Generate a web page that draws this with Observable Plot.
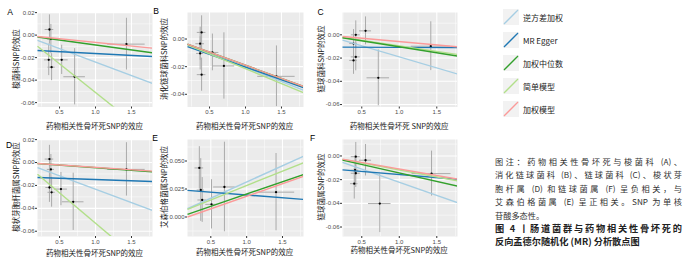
<!DOCTYPE html>
<html><head><meta charset="utf-8">
<script src="https://cdn.jsdelivr.net/npm/d3@7"></script>
<script src="https://cdn.jsdelivr.net/npm/@observablehq/plot@0.6"></script>
<style>
html,body{margin:0;padding:0;background:#fff;}
body{width:700px;height:264px;overflow:hidden;position:relative;font-family:"Liberation Sans","Noto Sans CJK SC",sans-serif;}
.t{position:absolute;white-space:nowrap;font-family:"Noto Sans CJK SC",sans-serif;color:#1a1a1a;}
.ytitle{font-size:7.5px;transform:translate(-50%,-50%) rotate(-90deg);}
.xtitle{font-size:7.5px;transform:translate(-50%,-50%);}
.letter{font-size:8.5px;transform:translate(-50%,-50%);font-family:"Liberation Sans",sans-serif;color:#000;}
.leglab{font-size:8px;transform:translateY(-50%);color:#222;}
.cap{position:absolute;left:495px;width:187px;font-family:"Noto Sans CJK SC",sans-serif;white-space:nowrap;transform:translateY(-50%);}
.note{font-size:8.2px;color:#333;}
.just{text-align:justify;text-align-last:justify;}
.ttl{font-size:9.2px;font-weight:bold;color:#222;}
</style></head><body>
<script>
// ---------- data ----------
const methods = ["逆方差加权", "MR Egger", "加权中位数", "简单模型", "加权模型"];
const methodColors = ["#a6cee3", "#1f78b4", "#33a02c", "#b2df8a", "#fb9a99"];
const drawOrder = [0, 1, 3, 2, 4];
const panelLetters = ["A", "B", "C", "D", "E", "F"];
const yTitles = ["梭菌科SNP的效应", "消化链球菌科SNP的效应", "链球菌科SNP的效应",
                 "梭状芽胞杆菌属SNP的效应", "艾森伯格菌属SNP的效应", "链球菌属SNP的效应"];
const xTitles = ["药物相关性骨坏死SNP的效应", "药物相关性骨坏死SNP的效应", "药物相关性骨坏死 SNP的效应",
                 "药物相关性骨坏死SNP的效应", "药物相关性骨坏死SNP的效应", "药物相关性骨坏死SNP的效应"];
const xTicks = [0.5, 1.0, 1.5];

// Panel A
const xA = [0.36, 0.38, 0.35, 0.39, 0.53, 0.71, 1.43];
const yA = [0.005, -0.0035, -0.022, -0.0285, -0.022, -0.037, -0.008];
const xseA = [0.06, 0.05, 0.06, 0.05, 0.09, 0.15, 0.26];
const yseA = [0.013, 0.013, 0.014, 0.012, 0.013, 0.025, 0.023];
const slopeA = [-0.024, -0.0033, -0.0088, -0.051, -0.0065];
const interA = [0, -0.0131, 0, 0, 0];
const yTicksA = [0.02, 0, -0.02, -0.04, -0.06];

// Panel B
const xB = [0.39, 0.37, 0.37, 0.39, 0.54, 0.70, 1.43];
const yB = [0.0048, -0.0034, -0.0104, -0.0258, -0.0097, -0.0195, -0.027];
const xseB = [0.06, 0.06, 0.05, 0.06, 0.09, 0.15, 0.26];
const yseB = [0.012, 0.012, 0.012, 0.012, 0.0133, 0.024, 0.022];
const slopeB = [-0.0205, -0.0184, -0.019, -0.0215, -0.019];
const interB = [0, -0.0019, 0, 0, 0];
const yTicksB = [0, -0.02, -0.04];

// Panel C
const xC = [0.42, 0.55, 0.39, 0.42, 0.39, 0.72, 1.42];
const yC = [0.000, 0.0034, -0.0075, -0.019, -0.022, -0.037, -0.0098];
const xseC = [0.06, 0.08, 0.05, 0.06, 0.05, 0.15, 0.26];
const yseC = [0.012, 0.012, 0.012, 0.012, 0.012, 0.024, 0.021];
const slopeC = [-0.019, -0.0003, -0.0103, -0.0095, -0.0058];
const interC = [0, -0.0105, 0, 0, 0];
const yTicksC = [0, -0.02, -0.04, -0.06];

// Panel D
const xD = [0.36, 0.38, 0.36, 0.39, 0.52, 0.69, 1.43];
const yD = [0.003, -0.006, -0.0218, -0.026, -0.0232, -0.0343, -0.006];
const xseD = [0.06, 0.05, 0.05, 0.05, 0.09, 0.15, 0.26];
const yseD = [0.012, 0.013, 0.013, 0.013, 0.0145, 0.025, 0.0233];
const slopeD = [-0.0234, -0.0022, -0.0045, -0.053, -0.0042];
const interD = [0, -0.0127, 0, 0, 0];
const yTicksD = [0.02, 0, -0.02, -0.04, -0.06];

// Panel E
const xE = [0.34, 0.36, 0.38, 0.51, 0.69, 1.41];
const yE = [0.0438, 0.0241, 0.0152, 0.0113, 0.0268, 0.0222];
const xseE = [0.06, 0.05, 0.06, 0.08, 0.15, 0.26];
const yseE = [0.019, 0.028, 0.02, 0.022, 0.04, 0.0345];
const slopeE = [0.029, -0.005, 0.022, 0.0257, 0.0224];
const interE = [0.0023, 0.0247, -0.0015, 0.0024, -0.0039];
const yTicksE = [0.05, 0.025, 0];

// Panel F
const xF = [0.42, 0.55, 0.41, 0.42, 0.40, 0.74, 1.43];
const yF = [-0.0006, -0.0036, -0.012, -0.0146, -0.0234, -0.0402, -0.0149];
const xseF = [0.06, 0.08, 0.05, 0.06, 0.05, 0.15, 0.26];
const yseF = [0.012, 0.0133, 0.012, 0.012, 0.013, 0.0245, 0.019];
const slopeF = [-0.0222, -0.0052, -0.0143, -0.0118, -0.011];
const interF = [0, -0.0105, 0, 0, 0];
const yTicksF = [0, -0.02, -0.04, -0.06];

// caption text
const noteLines = ["图注：药物相关性骨坏死与梭菌科 (A)、", "消化链球菌科 (B)、链球菌科 (C)、梭状芽",
                   "胞杆属 (D) 和链球菌属 (F) 呈负相关，与", "艾森伯格菌属 (E) 呈正相关。SNP 为单核",
                   "苷酸多态性。"];
const titleLines = ["图 4 丨肠道菌群与药物相关性骨坏死的", "反向孟德尔随机化 (MR) 分析散点图"];

// ---------- layout ----------
const panels = [
  {x: xA, y: yA, xse: xseA, yse: yseA, slope: slopeA, inter: interA, yTicks: yTicksA, dec: 2,
   rect: [37, 152, 12, 106.5], xDom: [0.194, 1.792], yDom: [-0.0639, 0.0201], letter: [10, 12], yT: 15, xT: 125},
  {x: xB, y: yB, xse: xseB, yse: yseB, slope: slopeB, inter: interB, yTicks: yTicksB, dec: 2,
   rect: [186.7, 302.7, 12, 106.5], xDom: [0.194, 1.806], yDom: [-0.0492, 0.0192], letter: [156, 11], yT: 163, xT: 125},
  {x: xC, y: yC, xse: xseC, yse: yseC, slope: slopeC, inter: interC, yTicks: yTicksC, dec: 2,
   rect: [341.7, 456.7, 12, 106.5], xDom: [0.243, 1.776], yDom: [-0.0621, 0.0192], letter: [320.5, 11.7], yT: 320, xT: 125},
  {x: xD, y: yD, xse: xseD, yse: yseD, slope: slopeD, inter: interD, yTicks: yTicksD, dec: 2,
   rect: [37, 152, 138.5, 235.5], xDom: [0.194, 1.792], yDom: [-0.0646, 0.0201], letter: [9, 145], yT: 15, xT: 252},
  {x: xE, y: yE, xse: xseE, yse: yseE, slope: slopeE, inter: interE, yTicks: yTicksE, dec: 3,
   rect: [186.7, 302.7, 138.5, 235.5], xDom: [0.175, 1.793], yDom: [-0.0174, 0.0692], letter: [155, 137.5], yT: 163, xT: 251},
  {x: xF, y: yF, xse: xseF, yse: yseF, slope: slopeF, inter: interF, yTicks: yTicksF, dec: 2,
   rect: [341.7, 456.7, 138.5, 235.5], xDom: [0.243, 1.776], yDom: [-0.068, 0.0139], letter: [312.7, 137.5], yT: 320, xT: 249}
];

function midpoints(t, dom) {
  const s = t.slice().sort((a, b) => a - b);
  const step = s.length > 1 ? s[1] - s[0] : 0.5;
  const out = [];
  for (let v = s[0] - step / 2; v >= dom[0]; v -= step) out.push(v);
  for (let i = 0; i < s.length - 1; i++) out.push((s[i] + s[i + 1]) / 2);
  for (let v = s[s.length - 1] + step / 2; v <= dom[1]; v += step) out.push(v);
  return out;
}

const body = document.body;
function addText(cls, txt, x, y) {
  const d = document.createElement("div");
  d.className = "t " + cls;
  d.textContent = txt;
  d.style.left = x + "px";
  d.style.top = y + "px";
  body.appendChild(d);
  return d;
}

panels.forEach((p, i) => {
  const [x0, x1, y0, y1] = p.rect;
  const mL = 34, mR = 4, mT = 4, mB = 14;
  const pts = p.x.map((v, k) => ({x: v, y: p.y[k], xse: p.xse[k], yse: p.yse[k]}));
  const lines = drawOrder.map(m => ({
    method: methods[m],
    xa: p.xDom[0], ya: p.inter[m] + p.slope[m] * p.xDom[0],
    xb: p.xDom[1], yb: p.inter[m] + p.slope[m] * p.xDom[1]
  }));
  const fmt = d => d.toFixed(p.dec);
  const svg = Plot.plot({
    width: x1 - x0 + mL + mR,
    height: y1 - y0 + mT + mB,
    marginLeft: mL, marginRight: mR, marginTop: mT, marginBottom: mB,
    style: {background: "transparent", fontFamily: "'Liberation Sans', sans-serif", overflow: "visible"},
    x: {domain: p.xDom, label: null},
    y: {domain: p.yDom, label: null},
    color: {domain: methods, range: methodColors},
    marks: [
      Plot.frame({fill: "#ebebeb", stroke: "none"}),
      Plot.gridX(midpoints(xTicks, p.xDom), {stroke: "#fff", strokeOpacity: 1, strokeWidth: 0.5}),
      Plot.gridY(midpoints(p.yTicks, p.yDom), {stroke: "#fff", strokeOpacity: 1, strokeWidth: 0.5}),
      Plot.gridX(xTicks, {stroke: "#fff", strokeOpacity: 1, strokeWidth: 1.1}),
      Plot.gridY(p.yTicks, {stroke: "#fff", strokeOpacity: 1, strokeWidth: 1.1}),
      Plot.ruleX(pts, {x: "x", y1: d => d.y - d.yse, y2: d => d.y + d.yse, stroke: "#aaaaaa", strokeWidth: 1, clip: true}),
      Plot.ruleY(pts, {y: "y", x1: d => d.x - d.xse, x2: d => d.x + d.xse, stroke: "#aaaaaa", strokeWidth: 1, clip: true}),
      Plot.dot(pts, {x: "x", y: "y", r: 1.15, fill: "#000", stroke: "none"}),
      Plot.link(lines, {x1: "xa", y1: "ya", x2: "xb", y2: "yb", stroke: "method", strokeWidth: 1.4, clip: true}),
      Plot.axisX(xTicks, {tickSize: 2, tickPadding: 1, fontSize: 6, tickFormat: d => d.toFixed(1), stroke: "#333", fill: "#4d4d4d", label: null}),
      Plot.axisY(p.yTicks, {tickSize: 2, tickPadding: 1, fontSize: 6, tickFormat: fmt, stroke: "#333", fill: "#4d4d4d", label: null})
    ]
  });
  svg.style.position = "absolute";
  svg.style.left = (x0 - mL) + "px";
  svg.style.top = (y0 - mT) + "px";
  body.appendChild(svg);

  addText("ytitle", yTitles[i], p.yT, (y0 + y1) / 2);
  addText("xtitle", xTitles[i], (x0 + x1) / 2, p.xT);
  addText("letter", panelLetters[i], p.letter[0], p.letter[1]);
});

// ---------- legend ----------
const legTop = [17, 40, 63, 86, 109];
methods.forEach((m, i) => {
  const k = d3.create("svg").attr("width", 16).attr("height", 16)
    .style("position", "absolute").style("left", "503px").style("top", (legTop[i] - 8) + "px");
  k.append("rect").attr("width", 16).attr("height", 16).attr("fill", "#f2f2f2");
  k.append("line").attr("x1", 1).attr("y1", 15).attr("x2", 15).attr("y2", 1)
    .attr("stroke", methodColors[i]).attr("stroke-width", 1.3);
  body.appendChild(k.node());
  addText("leglab", m, 523, legTop[i]);
});

// ---------- caption ----------
const noteY = [160.7, 174.3, 187.8, 201.3, 214.8];
noteLines.forEach((s, i) => {
  const d = document.createElement("div");
  d.className = "cap note" + (i < noteLines.length - 1 ? " just" : "");
  d.textContent = s;
  d.style.top = noteY[i] + "px";
  body.appendChild(d);
});
const titleY = [227.8, 240.5];
titleLines.forEach((s, i) => {
  const d = document.createElement("div");
  d.className = "cap ttl" + (i === 0 ? " just" : "");
  d.textContent = s;
  d.style.top = titleY[i] + "px";
  body.appendChild(d);
});
</script>
</body></html>
